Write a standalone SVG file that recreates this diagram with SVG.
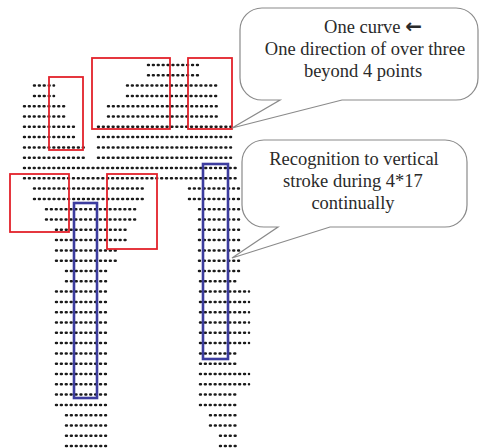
<svg xmlns="http://www.w3.org/2000/svg" width="481" height="448" viewBox="0 0 481 448">
<style>
.d{stroke:#1a1a1a;stroke-width:2.5;stroke-linecap:round;stroke-dasharray:0.9 4;fill:none}
.r{fill:none;stroke:#e3222b;stroke-width:1.8}
.b{fill:none;stroke:#3c3c9e;stroke-width:2.6}
.c{fill:#fff;stroke:#8a8a8a;stroke-width:1.2}
.t{font-family:"Liberation Serif","Times New Roman",serif;font-size:18.5px;fill:#2a2a2a;text-anchor:middle}
</style>
<rect width="481" height="448" fill="#fff"/>
<g id="dots">
<line class="d" x1="148" x2="198" y1="65" y2="65"/>
<line class="d" x1="148" x2="198" y1="75.3" y2="75.3"/>
<line class="d" x1="34" x2="54" y1="85.6" y2="85.6"/><line class="d" x1="127" x2="219" y1="85.6" y2="85.6"/>
<line class="d" x1="34" x2="54" y1="95.9" y2="95.9"/><line class="d" x1="127" x2="219" y1="95.9" y2="95.9"/>
<line class="d" x1="24" x2="65" y1="106.2" y2="106.2"/><line class="d" x1="108" x2="219" y1="106.2" y2="106.2"/>
<line class="d" x1="24" x2="65" y1="116.5" y2="116.5"/><line class="d" x1="108" x2="219" y1="116.5" y2="116.5"/>
<line class="d" x1="24" x2="75" y1="126.8" y2="126.8"/><line class="d" x1="98" x2="231" y1="126.8" y2="126.8"/>
<line class="d" x1="24" x2="75" y1="137.1" y2="137.1"/><line class="d" x1="98" x2="231" y1="137.1" y2="137.1"/>
<line class="d" x1="24" x2="84" y1="147.4" y2="147.4"/><line class="d" x1="98" x2="231" y1="147.4" y2="147.4"/>
<line class="d" x1="24" x2="84" y1="157.7" y2="157.7"/><line class="d" x1="98" x2="231" y1="157.7" y2="157.7"/>
<line class="d" x1="24" x2="239" y1="168" y2="168"/>
<line class="d" x1="24" x2="239" y1="178.3" y2="178.3"/>
<line class="d" x1="34" x2="146" y1="188.6" y2="188.6"/><line class="d" x1="189" x2="239" y1="188.6" y2="188.6"/>
<line class="d" x1="34" x2="146" y1="198.9" y2="198.9"/><line class="d" x1="189" x2="239" y1="198.9" y2="198.9"/>
<line class="d" x1="46" x2="136" y1="209.2" y2="209.2"/><line class="d" x1="199" x2="239" y1="209.2" y2="209.2"/>
<line class="d" x1="46" x2="136" y1="219.5" y2="219.5"/><line class="d" x1="199" x2="239" y1="219.5" y2="219.5"/>
<line class="d" x1="56" x2="126" y1="229.8" y2="229.8"/><line class="d" x1="199" x2="239" y1="229.8" y2="229.8"/>
<line class="d" x1="56" x2="126" y1="240.1" y2="240.1"/><line class="d" x1="199" x2="239" y1="240.1" y2="240.1"/>
<line class="d" x1="56" x2="116" y1="250.4" y2="250.4"/><line class="d" x1="199" x2="239" y1="250.4" y2="250.4"/>
<line class="d" x1="56" x2="116" y1="260.7" y2="260.7"/><line class="d" x1="199" x2="239" y1="260.7" y2="260.7"/>
<line class="d" x1="66" x2="106" y1="271" y2="271"/><line class="d" x1="199" x2="239" y1="271" y2="271"/>
<line class="d" x1="66" x2="106" y1="281.3" y2="281.3"/><line class="d" x1="200" x2="239" y1="281.3" y2="281.3"/>
<line class="d" x1="56" x2="106" y1="291.6" y2="291.6"/><line class="d" x1="200" x2="249" y1="291.6" y2="291.6"/>
<line class="d" x1="56" x2="106" y1="301.9" y2="301.9"/><line class="d" x1="200" x2="249" y1="301.9" y2="301.9"/>
<line class="d" x1="56" x2="106" y1="312.2" y2="312.2"/><line class="d" x1="200" x2="249" y1="312.2" y2="312.2"/>
<line class="d" x1="56" x2="106" y1="322.5" y2="322.5"/><line class="d" x1="200" x2="249" y1="322.5" y2="322.5"/>
<line class="d" x1="56" x2="106" y1="332.8" y2="332.8"/><line class="d" x1="200" x2="249" y1="332.8" y2="332.8"/>
<line class="d" x1="56" x2="106" y1="343.1" y2="343.1"/><line class="d" x1="200" x2="249" y1="343.1" y2="343.1"/>
<line class="d" x1="56" x2="106" y1="353.4" y2="353.4"/><line class="d" x1="200" x2="239" y1="353.4" y2="353.4"/>
<line class="d" x1="56" x2="106" y1="363.7" y2="363.7"/><line class="d" x1="200" x2="239" y1="363.7" y2="363.7"/>
<line class="d" x1="56" x2="106" y1="374" y2="374"/><line class="d" x1="200" x2="249" y1="374" y2="374"/>
<line class="d" x1="56" x2="106" y1="384.3" y2="384.3"/><line class="d" x1="200" x2="249" y1="384.3" y2="384.3"/>
<line class="d" x1="56" x2="106" y1="394.6" y2="394.6"/><line class="d" x1="200" x2="239" y1="394.6" y2="394.6"/>
<line class="d" x1="56" x2="106" y1="404.9" y2="404.9"/><line class="d" x1="200" x2="239" y1="404.9" y2="404.9"/>
<line class="d" x1="66" x2="106" y1="415.2" y2="415.2"/><line class="d" x1="210" x2="239" y1="415.2" y2="415.2"/>
<line class="d" x1="66" x2="106" y1="425.5" y2="425.5"/><line class="d" x1="210" x2="239" y1="425.5" y2="425.5"/>
<line class="d" x1="66" x2="106" y1="435.8" y2="435.8"/><line class="d" x1="220" x2="239" y1="435.8" y2="435.8"/>
<line class="d" x1="66" x2="106" y1="446.1" y2="446.1"/><line class="d" x1="220" x2="239" y1="446.1" y2="446.1"/>
</g>
<g id="red-boxes">
<rect id="red1" class="r" x="49" y="77" width="34" height="73"/>
<rect id="red2" class="r" x="92" y="58" width="78" height="71"/>
<rect id="red3" class="r" x="188" y="58" width="44" height="71"/>
<rect id="red4" class="r" x="10" y="174" width="59" height="58"/>
<rect id="red5" class="r" x="107" y="174" width="50" height="75"/>
</g>
<g id="blue-boxes">
<rect id="blue1" class="b" x="74" y="203" width="23" height="195"/>
<rect id="blue2" class="b" x="203" y="164" width="25" height="195"/>
</g>
<g id="callout1">
<path class="c" d="M262,8 H456 A22,22 0 0 1 478,30 V78 A22,22 0 0 1 456,100 H342 L232,128 L280,100 H262 A22,22 0 0 1 240,78 V30 A22,22 0 0 1 262,8 Z"/>
<text class="t" x="373" y="33">One curve <tspan font-family="DejaVu Sans" font-weight="bold" font-size="20">←</tspan></text>
<text class="t" x="365" y="55">One direction of over three</text>
<text class="t" x="363" y="77">beyond 4 points</text>
</g>
<g id="callout2">
<path class="c" d="M264,140 H445 A22,22 0 0 1 467,162 V205 A22,22 0 0 1 445,227 H330 L232,258 L278,227 H264 A22,22 0 0 1 242,205 V162 A22,22 0 0 1 264,140 Z"/>
<text class="t" x="354" y="165">Recognition to vertical</text>
<text class="t" x="353" y="187">stroke during 4*17</text>
<text class="t" x="353" y="209">continually</text>
</g>
</svg>
